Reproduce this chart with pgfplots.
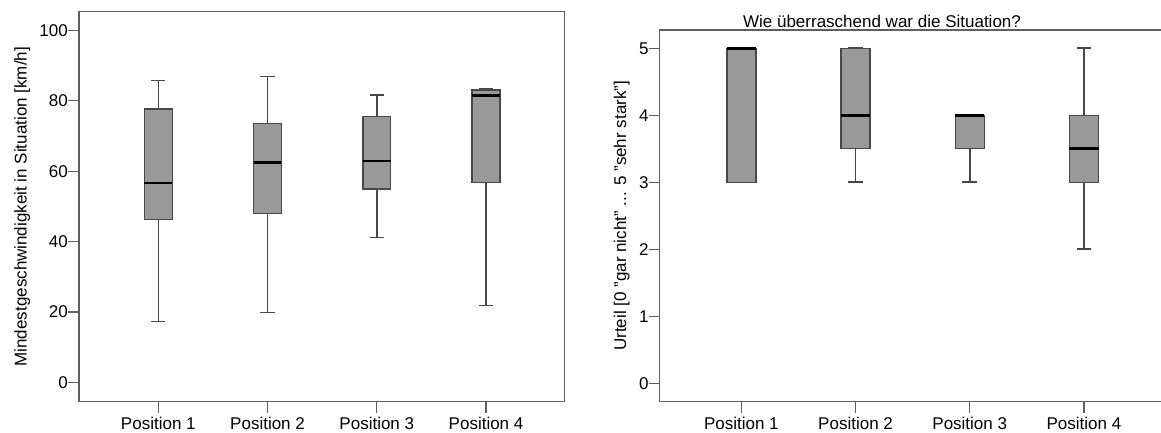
\documentclass[border=0pt]{standalone}
\usepackage{fontspec}
\setmainfont{Liberation Sans}
\usepackage{pgfplots}
\pgfplotsset{compat=1.18}
\usepgfplotslibrary{statistics}

\definecolor{boxfill}{RGB}{153,153,153}
\definecolor{boxline}{RGB}{72,72,72}
\definecolor{frameline}{RGB}{95,95,95}

\pgfplotsset{
  spss/.style={
    scale only axis,
    axis line style={frameline, line width=1.3pt},
    tick style={frameline, line width=1.3pt},
    tick align=outside,
    major tick length=11pt,
    xtick={0,1,2,3},
    xticklabels={Position 1,Position 2,Position 3,Position 4},
    xtick pos=lower, ytick pos=left,
    font=\fontsize{17}{20}\selectfont,
    /pgf/number format/assume math mode=true,
    ticklabel style={font=\fontsize{17}{20}\selectfont, inner sep=0pt},
    xticklabel style={yshift=-4pt},
    boxplot/draw direction=y,
    boxplot/box extend=0.255,
    boxplot/whisker extend=0.13,
    boxplot/every whisker/.style={line width=1.6pt},
    boxplot/every median/.style={black, line width=2.7pt},
    box/.style={fill=boxfill, draw=boxline, line width=1.4pt},
  }
}

\begin{document}
\begin{tikzpicture}
\useasboundingbox (0,0) rectangle (1161pt,432pt);

% Mindestgeschwindigkeit je Position
\begin{axis}[spss,
  at={(79pt,30.3pt)}, anchor=south west,
  width=485.7pt, height=390pt,
  xmin=-0.726, xmax=3.72,
  ymin=-5.5, ymax=105.3,
  ytick={0,20,40,60,80,100},
  ylabel={Mindestgeschwindigkeit in Situation [km/h]},
  ylabel style={at={(axis description cs:-0.1077,0.5)}, anchor=base, inner sep=0pt},
]
\addplot[box, boxplot prepared={draw position=0,
  lower whisker=17.3, lower quartile=46.3, median=56.65,
  upper quartile=77.7, upper whisker=85.7}] coordinates {};
\addplot[box, boxplot prepared={draw position=1,
  lower whisker=19.8, lower quartile=47.9, median=62.4,
  upper quartile=73.6, upper whisker=86.9}] coordinates {};
\addplot[box, boxplot prepared={draw position=2,
  lower whisker=41.2, lower quartile=54.9, median=62.9,
  upper quartile=75.6, upper whisker=81.7}] coordinates {};
\addplot[box, boxplot prepared={draw position=3,
  lower whisker=21.8, lower quartile=56.7, median=81.5,
  upper quartile=83.1, upper whisker=83.3}] coordinates {};
\end{axis}

% Urteil: Wie ueberraschend war die Situation?
\begin{axis}[spss,
  at={(659.7pt,30.3pt)}, anchor=south west,
  width=505.9pt, height=371.7pt,
  xmin=-0.715, xmax=3.715,
  ymin=-0.275, ymax=5.273,
  ytick={0,1,2,3,4,5},
  title={Wie überraschend war die Situation?},
  title style={at={(axis description cs:0.4394,1)}, anchor=base, yshift=-3.5pt, inner sep=0pt},
  ylabel={Urteil [0 "gar nicht" ... 5 "sehr stark"]},
  ylabel style={at={(axis description cs:-0.0666,0.5)}, anchor=base, inner sep=0pt},
]
\addplot[box, boxplot prepared={draw position=0,
  lower whisker=3, lower quartile=3, median=5,
  upper quartile=5, upper whisker=5}] coordinates {};
\addplot[box, boxplot prepared={draw position=1,
  lower whisker=3, lower quartile=3.5, median=4,
  upper quartile=5, upper whisker=5}] coordinates {};
\addplot[box, boxplot prepared={draw position=2,
  lower whisker=3, lower quartile=3.5, median=4,
  upper quartile=4, upper whisker=4}] coordinates {};
\addplot[box, boxplot prepared={draw position=3,
  lower whisker=2, lower quartile=3, median=3.5,
  upper quartile=4, upper whisker=5}] coordinates {};
\end{axis}
\end{tikzpicture}
\end{document}
